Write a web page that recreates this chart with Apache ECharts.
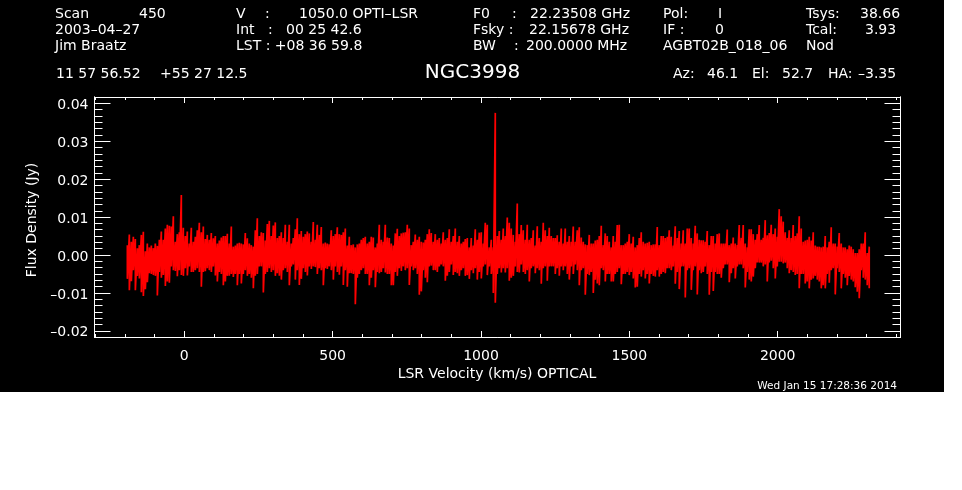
<!DOCTYPE html>
<html><head><meta charset="utf-8">
<style>html,body{margin:0;padding:0;background:#fff}#c{width:944px;height:392px}</style>
<script src="https://cdn.jsdelivr.net/npm/echarts@6/dist/echarts.min.js"></script></head>
<body><div id="c"></div>
<script>
// Envelope of the spectrum per display channel, flux in mJy
const firstVelocity = -192, channelWidth = 6.74;
const hiA = [2.6,5.4,3.5,4.8,4.2,1.8,2.6,5.3,6.1,1.0,3.0,2.0,2.5,1.8,3.0,2.4,4.0,6.2,4.0,7.0,8.0,7.7,7.5,10.2,3.5,5.5,6.0,15.8,7.2,5.0,6.2,3.0,7.2,3.5,4.8,6.5,8.5,6.0,7.5,4.2,5.3,4.0,5.8,4.4,5.0,3.0,3.8,4.6,5.0,5.0,5.6,3.0,7.5,2.2,2.5,3.0,3.2,3.0,2.8,5.8,4.4,3.0,2.6,2.2,6.5,9.7,5.0,6.0,5.8,3.8,8.2,9.0,5.0,7.8];
const loA = [-6.3,-9.3,-6.9,-4.0,-9.3,-5.5,-6.2,-9.8,-10.8,-9.0,-7.2,-4.8,-5.0,-5.3,-5.5,-10.7,-4.5,-6.0,-5.3,-8.2,-7.0,-7.3,-3.0,-4.0,-4.2,-5.6,-4.0,-5.3,-5.5,-3.5,-5.4,-3.0,-4.5,-4.5,-4.0,-3.5,-4.5,-8.4,-4.5,-4.3,-3.5,-4.0,-4.5,-3.0,-5.4,-7.0,-4.5,-5.0,-8.0,-7.0,-5.5,-5.5,-5.0,-5.8,-5.0,-8.0,-5.0,-7.5,-5.0,-4.0,-5.5,-5.0,-6.0,-8.8,-5.5,-5.0,-3.0,-3.0,-9.9,-5.0,-4.5,-3.5,-4.5,-4.0];
const hiB = [8.6,4.5,5.0,6.0,4.5,8.0,3.5,8.0,3.0,4.5,6.8,9.7,5.5,6.3,4.8,5.5,6.2,5.7,3.5,8.7,4.0,8.0,5.3,7.4,3.0,3.3,3.0,2.8,6.5,5.0,5.5,7.3,5.5,5.3,6.0,7.0,2.5,4.8,2.6,2.8,2.0,2.8,3.0,4.0,4.5,4.8,3.0,3.5,4.8,4.6,2.0,3.0,8.0,4.0,3.5,8.0,4.6,4.5,3.0,2.5,5.7,6.9,5.0,5.7,5.9,6.0,8.0,7.0,2.6,3.5,5.4,4.0,4.8,3.5,3.3];
const loB = [-5.5,-4.8,-5.5,-6.5,-4.0,-3.5,-4.5,-8.0,-3.0,-2.5,-6.5,-4.0,-7.9,-6.3,-3.5,-4.5,-5.4,-3.0,-3.7,-3.0,-3.2,-5.0,-3.5,-4.0,-8.0,-3.5,-3.7,-3.0,-4.0,-6.5,-3.0,-4.5,-5.2,-3.0,-7.9,-4.0,-8.4,-4.8,-4.8,-5.0,-13.0,-6.0,-5.0,-4.0,-3.5,-5.0,-5.0,-8.0,-6.0,-4.0,-8.5,-4.5,-4.8,-4.5,-3.5,-4.6,-5.0,-5.0,-8.0,-8.0,-4.5,-5.5,-3.5,-4.2,-3.0,-4.0,-3.5,-7.9,-3.0,-4.0,-3.5,-5.0,-10.5,-9.6,-4.0];
const hiC = [4.0,5.5,6.8,5.8,3.5,5.5,4.0,4.5,3.0,6.0,4.0,4.5,6.8,3.5,5.0,7.0,3.5,5.0,3.0,3.5,4.2,4.5,2.0,4.5,2.5,6.8,4.0,5.9,6.0,3.0,8.5,8.0,2.0,4.0,2.0,37.5,5.0,6.3,4.0,7.0,5.0,9.9,8.5,7.0,5.3,3.5,13.6,5.5,7.9,6.5,4.0,8.0,4.0,4.5,6.5,2.5,7.6,4.5,3.5,8.5,6.5,5.0,7.2,5.0,4.5,4.5,5.2,3.5,7.0,3.0,7.0,3.5,5.0,3.5,7.5];
const loC = [-6.0,-7.2,-3.0,-2.8,-4.0,-4.0,-4.5,-3.0,-2.5,-3.0,-6.8,-5.5,-4.5,-2.5,-5.3,-4.5,-4.8,-5.5,-4.0,-3.5,-5.5,-5.3,-6.3,-4.0,-4.8,-3.5,-6.5,-4.5,-6.2,-3.0,-2.5,-5.3,-3.0,-5.0,-10.0,-12.6,-5.0,-3.5,-4.6,-3.5,-4.6,-3.5,-6.8,-6.0,-5.5,-3.0,-4.5,-4.6,-2.5,-4.5,-5.0,-4.0,-7.0,-3.5,-3.0,-4.8,-3.5,-4.0,-7.6,-3.5,-3.0,-6.8,-3.0,-3.0,-3.0,-5.0,-3.5,-5.5,-3.0,-4.0,-3.0,-5.0,-6.5,-3.0,-5.0];
const hiD = [3.5,6.5,7.3,4.6,3.5,2.8,2.6,5.3,3.0,3.0,3.8,4.0,5.0,7.7,2.6,5.7,5.0,3.5,2.0,5.0,3.5,7.9,8.0,2.6,2.6,3.0,3.5,5.5,3.0,4.8,2.0,2.6,4.5,6.0,3.5,3.0,3.2,3.5,2.6,2.8,2.8,7.4,2.6,5.0,5.0,4.5,4.8,6.5,4.8,2.5,7.6,4.5,6.3,3.0,6.5,3.0,7.0,7.0,4.5,3.0,7.7,5.7,4.0,3.9,3.9,3.5,6.3,2.6,5.0,5.0,3.0,5.5,5.7,3.0,3.0];
const loD = [-2.5,-4.0,-8.0,-4.0,-3.5,-10.5,-5.0,-5.3,-4.5,-10.0,-6.5,-7.5,-8.0,-3.5,-4.0,-7.0,-5.0,-5.0,-7.0,-7.0,-5.0,-4.5,-3.5,-7.7,-5.0,-5.0,-4.5,-5.3,-4.5,-6.2,-8.6,-8.4,-5.0,-5.7,-4.0,-6.2,-5.0,-7.5,-5.0,-5.5,-5.7,-4.0,-5.7,-5.0,-4.5,-4.8,-3.5,-3.5,-4.0,-3.0,-7.6,-4.5,-9.0,-3.0,-3.0,-11.2,-4.0,-3.5,-9.2,-4.0,-3.0,-10.4,-4.0,-4.8,-4.5,-3.0,-5.0,-10.5,-4.5,-9.5,-4.5,-5.0,-5.0,-6.0,-3.5];
const hiE = [3.0,6.7,2.6,3.0,4.6,3.0,2.6,7.9,4.5,7.9,3.0,2.0,6.8,6.8,5.5,4.0,5.5,7.9,4.0,4.5,9.2,5.2,5.8,8.0,5.5,7.0,4.8,12.1,10.2,8.8,6.0,4.5,6.5,4.5,7.9,5.0,5.7,10.2,7.0,3.5,3.8,4.0,4.8,3.8,6.0,2.5,2.2,2.2,2.0,2.2,5.0,2.0,3.5,7.3,3.0,3.0,2.2,5.8,3.0,2.0,2.0,1.5,2.5,2.2,1.5,0.5,0.5,1.5,3.0,3.0,6.0,0.5,2.2];
const loE = [-2.5,-2.5,-7.2,-4.8,-3.5,-6.2,-3.0,-2.5,-2.5,-3.5,-8.6,-4.5,-6.5,-7.0,-5.7,-3.5,-2.0,-2.0,-2.0,-3.0,-2.5,-7.0,-2.0,-1.5,-3.5,-6.2,-3.0,-1.8,-1.8,-2.2,-2.0,-3.5,-4.8,-4.0,-4.5,-5.3,-5.0,-8.8,-5.0,-5.0,-7.5,-7.0,-8.8,-6.5,-6.2,-5.5,-6.5,-7.0,-8.8,-8.0,-8.8,-5.0,-7.3,-4.0,-3.5,-10.4,-3.5,-4.5,-8.8,-5.0,-6.0,-8.0,-5.5,-6.5,-7.0,-8.5,-9.7,-11.4,-4.0,-6.0,-6.5,-8.0,-8.8];

const xMajor = [0,500,1000,1500,2000];
const xMinor = [-300,-200,-100,100,200,300,400,600,700,800,900,1100,1200,1300,1400,1600,1700,1800,1900,2100,2200,2300,2400];
const yMajor = [-0.02,-0.01,0,0.01,0.02,0.03,0.04];
const yMinorPerMajor = 6;
const xTitle = 'LSR Velocity (km/s) OPTICAL';
const yTitle = 'Flux Density (Jy)';
const chartTitle = 'NGC3998';
const stamp = 'Wed Jan 15 17:28:36 2014';

const header = [
 ['Scan',55,14],['450',139,14],['2003\u201304\u201327',55,30],['Jim Braatz',55,46],
 ['V',236,14],[':',265,14],['1050.0 OPTI\u2013LSR',299,14],
 ['Int',236,30],[':',268,30],['00 25 42.6',286,30],
 ['LST : +08 36 59.8',236,46],
 ['11 57 56.52',56,74],['+55 27 12.5',160,74],
 ['F0',473,14],[':',512,14],['22.23508 GHz',530,14],
 ['Fsky :',473,30],['22.15678 GHz',529,30],
 ['BW',473,46],[':',514,46],['200.0000 MHz',526,46],
 ['Pol:',663,14],['I',718,14],['IF :',663,30],['0',715,30],['AGBT02B_018_06',663,46],
 ['Tsys:',806,14],['38.66',860,14],['Tcal:',806,30],['3.93',865,30],['Nod',806,46],
 ['Az:',673,74],['46.1',707,74],['El:',752,74],['52.7',782,74],['HA:',828,74],['\u20133.35',858,74]
];

const hi = [...hiA,...hiB,...hiC,...hiD,...hiE], lo = [...loA,...loB,...loC,...loD,...loE];
const points = [];
hi.forEach((h,i)=>{const v=firstVelocity+i*channelWidth;points.push([v,h/1000],[v,lo[i]/1000]);});

const yMinor=[];
for(let k=-2;k<5;k++)for(let j=1;j<yMinorPerMajor;j++)yMinor.push(+(k/100+j/yMinorPerMajor/100).toFixed(6));

const FONT='"DejaVu Sans"', W='#fff';
const xr={type:'value',min:-302.7,max:2413.9}, yr={type:'value',min:-0.02164,max:0.04169};
const line={show:true,onZero:false,lineStyle:{color:W,width:1}};
const ax=(base,grid,pos,vals,len,label)=>Object.assign({},base,{gridIndex:grid,position:pos,splitLine:{show:false},axisLine:line,
  axisTick:{show:true,inside:true,length:len,customValues:vals,lineStyle:{color:W,width:1}},
  axisLabel:label?Object.assign({show:true,color:W,fontFamily:FONT,fontSize:14,customValues:vals},label):{show:false}});
const rect={left:94.5,top:97,width:806,height:240};
const chart=echarts.init(document.getElementById('c'),null,{renderer:'canvas'});
chart.setOption({
 animation:false,backgroundColor:'#000',
 grid:[rect,rect],
 xAxis:[ax(xr,0,'bottom',xMajor,6,{margin:12,formatter:v=>String(v)}),ax(xr,0,'top',xMajor,6),
        ax(xr,1,'bottom',xMinor,3),ax(xr,1,'top',xMinor,3)],
 yAxis:[ax(yr,0,'left',yMajor,16,{margin:6,lineHeight:18,verticalAlign:'top',padding:[-7,0,0,0],formatter:v=>v.toFixed(2).replace('-','\u2013')}),ax(yr,0,'right',yMajor,16),
        ax(yr,1,'left',yMinor,8),ax(yr,1,'right',yMinor,8)],
 series:[{type:'line',data:points,xAxisIndex:0,yAxisIndex:0,showSymbol:false,silent:true,sampling:false,
   lineStyle:{color:'#f00',width:1.7},itemStyle:{color:'#f00'},z:1}],
 graphic:[
  ...header.map(([t,x,y])=>({type:'text',x,y,style:{text:t,fill:W,font:'14px '+FONT,textVerticalAlign:'middle'}})),
  {type:'text',x:472.5,y:73,style:{text:chartTitle,fill:W,font:'20px '+FONT,textAlign:'center',textVerticalAlign:'middle'}},
  {type:'text',x:497,y:374,style:{text:xTitle,fill:W,font:'14px '+FONT,textAlign:'center',textVerticalAlign:'middle'}},
  {type:'text',x:32,y:220,rotation:Math.PI/2,style:{text:yTitle,fill:W,font:'14px '+FONT,textAlign:'center',textVerticalAlign:'middle'}},
  {type:'text',x:897,y:386,style:{text:stamp,fill:W,font:'10.5px '+FONT,textAlign:'right',textVerticalAlign:'middle'}}
 ]
});
</script></body></html>
